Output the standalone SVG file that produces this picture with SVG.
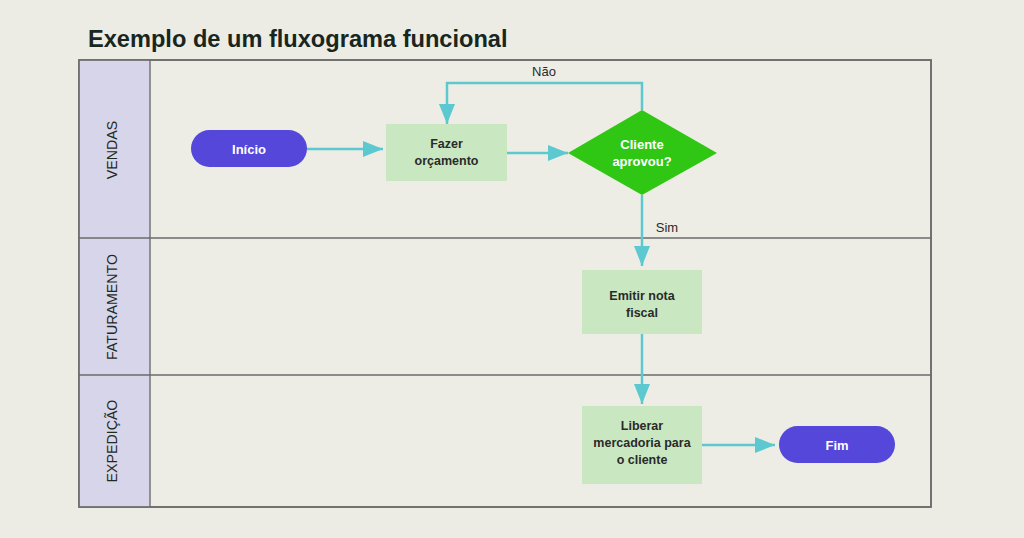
<svg xmlns="http://www.w3.org/2000/svg" width="1024" height="538" viewBox="0 0 1024 538">
<style>
.lane{fill:#ededE6;stroke:#6a6a6a;stroke-width:1.5}
.lbl{fill:#d7d5e9;stroke:#8a8a8a;stroke-width:1}
.lt{font-family:"Liberation Sans",Arial,sans-serif;font-size:14.2px;fill:#1f2a22;text-anchor:middle}
.box{fill:#c9e8c2}
.bt{font-family:"Liberation Sans",Arial,sans-serif;font-size:12.5px;font-weight:bold;fill:#2a2a2a;text-anchor:middle}
.pill{fill:#5447d9}
.wt{font-family:"Liberation Sans",Arial,sans-serif;font-size:13px;font-weight:bold;fill:#ffffff;text-anchor:middle}
.edge{fill:none;stroke:#5cc8d0;stroke-width:2.5}
.el{font-family:"Liberation Sans",Arial,sans-serif;font-size:13px;fill:#2a2a2a;text-anchor:middle}
</style>
<defs>
<marker id="arr" viewBox="0 0 10 10" refX="10" refY="5" markerWidth="20" markerHeight="16" orient="auto" markerUnits="userSpaceOnUse" preserveAspectRatio="none">
<path d="M0,0 L10,5 L0,10 Z" fill="#5cc8d0"/>
</marker>
</defs>
<rect width="1024" height="538" fill="#ececE4"/>
<text x="88" y="47" font-family="'Liberation Sans',Arial,sans-serif" font-size="23.6" font-weight="bold" fill="#18261e">Exemplo de um fluxograma funcional</text>
<g id="lanes">
<rect class="lane" x="79" y="60" width="852" height="447"/>
<rect class="lbl" x="79" y="60" width="71" height="447"/>
<line x1="79" y1="238" x2="931" y2="238" stroke="#6a6a6a" stroke-width="1.5"/>
<line x1="79" y1="375" x2="931" y2="375" stroke="#6a6a6a" stroke-width="1.5"/>
<line x1="150" y1="60" x2="150" y2="507" stroke="#6a6a6a" stroke-width="1"/>
<rect x="79" y="60" width="852" height="447" fill="none" stroke="#6a6a6a" stroke-width="1.5"/>
<text class="lt" transform="translate(117,150) rotate(-90)">VENDAS</text>
<text class="lt" transform="translate(117,307) rotate(-90)">FATURAMENTO</text>
<text class="lt" transform="translate(117,441) rotate(-90)">EXPEDIÇÃO</text>
</g>
<g id="connectors">
<line class="edge" x1="307" y1="149" x2="383" y2="149" marker-end="url(#arr)"/>
<line class="edge" x1="507" y1="153" x2="568" y2="153" marker-end="url(#arr)"/>
<polyline class="edge" points="642,110 642,83 447,83 447,124" marker-end="url(#arr)"/>
<line class="edge" x1="642" y1="195" x2="642" y2="266" marker-end="url(#arr)"/>
<line class="edge" x1="642" y1="334" x2="642" y2="404" marker-end="url(#arr)"/>
<line class="edge" x1="702" y1="445" x2="775" y2="445" marker-end="url(#arr)"/>
<text class="el" x="544" y="76">Não</text>
<text class="el" x="667" y="232">Sim</text>
</g>
<g id="inicio">
<rect class="pill" x="191" y="130" width="116" height="37" rx="18.5"/>
<text class="wt" x="249" y="153.5">Início</text>
</g>
<g id="fazer">
<rect class="box" x="386" y="124" width="121" height="57"/>
<text class="bt" x="446.5" y="148">Fazer</text>
<text class="bt" x="446.5" y="165">orçamento</text>
</g>
<g id="decisao">
<polygon points="568,153 642,110 717,153 642,195" fill="#2fc614"/>
<text class="wt" x="642" y="149" font-size="12">Cliente</text>
<text class="wt" x="642" y="166" font-size="12">aprovou?</text>
</g>
<g id="emitir">
<rect class="box" x="582" y="270" width="120" height="64"/>
<text class="bt" x="642" y="300">Emitir nota</text>
<text class="bt" x="642" y="317">fiscal</text>
</g>
<g id="liberar">
<rect class="box" x="582" y="406" width="120" height="78"/>
<text class="bt" x="642" y="430">Liberar</text>
<text class="bt" x="642" y="447">mercadoria para</text>
<text class="bt" x="642" y="464">o cliente</text>
</g>
<g id="fim">
<rect class="pill" x="779" y="426" width="116" height="37" rx="18.5"/>
<text class="wt" x="837" y="449.5">Fim</text>
</g>
</svg>
